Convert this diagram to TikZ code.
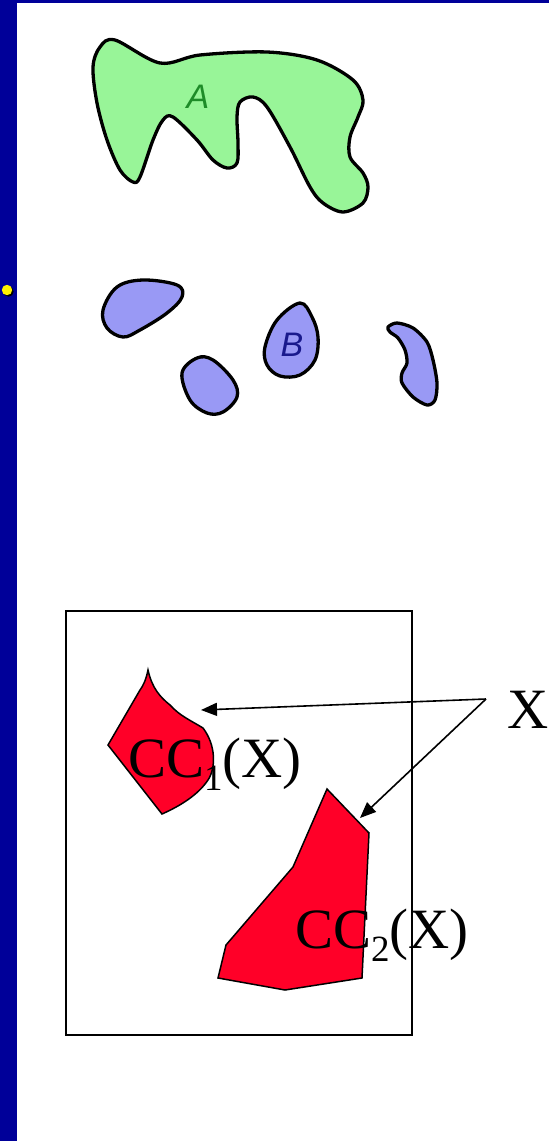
\documentclass[tikz,border=0pt]{standalone}
\usepackage{fontspec}
\setmainfont{Liberation Serif}
\newfontfamily\labfont{Liberation Sans}
\usetikzlibrary{arrows.meta}
\definecolor{barblue}{RGB}{0,0,153}
\definecolor{agreen}{RGB}{152,245,152}
\definecolor{atext}{RGB}{30,140,40}
\definecolor{bblue}{RGB}{153,153,245}
\definecolor{btext}{RGB}{25,25,140}
\definecolor{ccred}{RGB}{255,0,40}
\tikzset{
  blobA/.style={draw=black,line width=3.3pt,fill=agreen,line join=round},
  blobB/.style={draw=black,line width=3.3pt,fill=bblue,line join=round},
  ccshape/.style={draw=black,line width=1.5pt,fill=ccred,line join=miter},
  bigtext/.style={font=\fontsize{57}{60}\selectfont,inner sep=0pt},
  arr/.style={line width=1.6pt,-{Triangle[length=16pt,width=13pt]}},
}
\newcommand{\ccsub}[1]{\raisebox{-0.23em}{\fontsize{37}{37}\selectfont #1}}
\begin{document}
\begin{tikzpicture}[x=1pt,y=-1pt]
\path[use as bounding box] (0,0) rectangle (549,1141);
% frame bars
\fill[barblue] (0,0) rectangle (549,3);
\fill[barblue] (0,0) rectangle (16.5,1141);
\fill[black] (8.5,291.5) circle (5.2);
\fill[yellow] (7,290) circle (5.2);
% shape A
\draw[blobA] plot[smooth cycle,tension=0.55] coordinates {
 (115,40) (160,63) (200,55) (267,52) (317,60) (353,80) (363,100) (358,117)
 (350,137) (350,157) (363,173) (368,187) (363,203) (343,212) (323,203)
 (310,187) (290,147) (267,107) (253,97) (240,102) (237,117) (238,143)
 (237,163) (227,168) (213,160) (197,140) (173,117) (163,120) (153,140)
 (140,177) (133,182) (120,170) (107,140) (97,103) (93,67) (100,47)};
\node[font=\labfont\itshape\fontsize{34}{34}\selectfont,text=atext] (la) at (198,97) {A};
% shapes B
\draw[blobB] plot[smooth cycle,tension=0.6] coordinates {
 (103,310) (117,287) (143,280) (177,285) (182,297) (167,313) (140,330) (123,337) (107,328)};
\draw[blobB] plot[smooth cycle,tension=0.6] coordinates {
 (182,373) (197,358) (213,360) (233,380) (237,397) (223,412) (207,413) (190,400)};
\draw[blobB] plot[smooth cycle,tension=0.6] coordinates {
 (300,303) (312,317) (318,337) (315,360) (300,375) (280,376) (267,365) (265,347) (277,320)};
\draw[blobB] plot[smooth cycle,tension=0.5] coordinates {
 (388,327) (397,323) (413,328) (427,342) (433,360) (437,383) (435,400)
 (427,405) (413,397) (402,383) (402,373) (407,363) (405,350) (398,338) (390,332)};
\node[font=\labfont\itshape\fontsize{34}{34}\selectfont,text=btext] (lb) at (292,345) {B};
% box
\draw[line width=1.5pt] (66,611) rectangle (412,1035);
% CC1 shape
\draw[ccshape] (148,670) .. controls (146,680) and (143,686) .. (140,690)
 -- (108,745) -- (162,814)
 .. controls (180,806) and (198,795) .. (208,780)
 .. controls (216,768) and (216,745) .. (203,728)
 .. controls (190,720) and (180,716) .. (170,705)
 .. controls (160,697) and (152,688) .. (148,670) -- cycle;
% CC2 shape
\draw[ccshape] (327,789) -- (369,833) -- (362,978) -- (285,990) -- (218,978)
 -- (226,945) -- (293,867) -- cycle;
% labels
\node[bigtext,anchor=base west] (cc1) at (128,777) {CC\ccsub{1}(X)};
\node[bigtext,anchor=base west] (cc2) at (295,948) {CC\ccsub{2}(X)};
\node[bigtext,anchor=base] (xl) at (528,728) {X};
% arrows
\coordinate (xs) at (486,699);
\coordinate (t1) at (201,710);
\coordinate (t2) at (360,818);
\draw[arr] (xs) -- (t1);
\draw[arr] (xs) -- (t2);
\end{tikzpicture}
\end{document}
